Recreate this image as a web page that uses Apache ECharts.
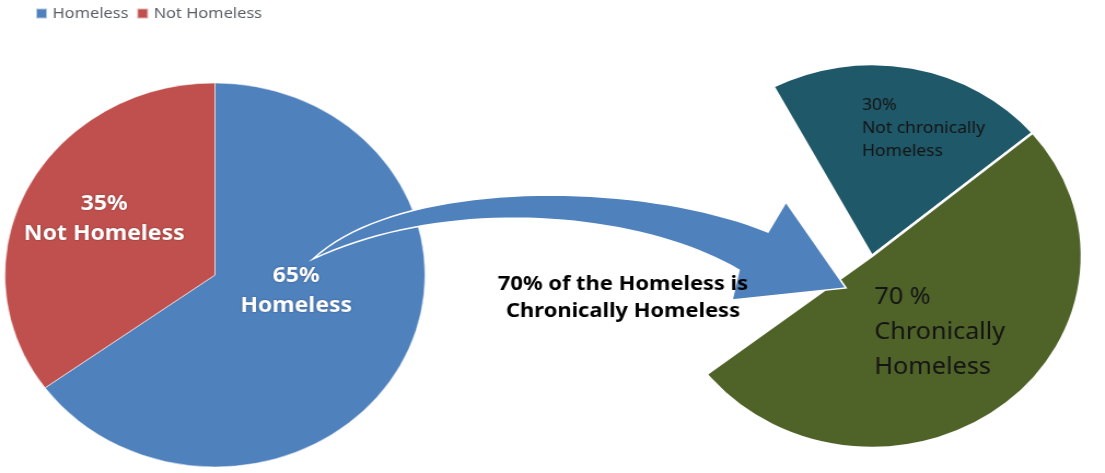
<!DOCTYPE html>
<html>
<head>
<meta charset="utf-8">
<script src="https://cdn.jsdelivr.net/npm/echarts@6/dist/echarts.min.js"></script>
<style>
  html, body { margin: 0; padding: 0; background: #fff; overflow: hidden; }
  #main { width: 1010px; height: 473px; transform: scaleX(1.094); transform-origin: 0 0; }
</style>
</head>
<body>
<div id="main"></div>
<script>
// Horizontal stretch of the whole drawing (pies appear slightly wide).
const STRETCH = 1.094;

// Share of the population
const leftCategories = ['Homeless', 'Not Homeless'];
const leftValues = [65, 35];
const leftColors = ['#4F81BD', '#C0504D'];

// Breakdown of the homeless group
const rightCategories = ['Not chronically\nHomeless', 'Chronically\nHomeless'];
const rightValues = [30, 70];
const rightColors = ['#1F5868', '#4F6228'];
const rightValueSuffix = ['%', ' %'];

const calloutText = '70% of the Homeless is\nChronically Homeless';

const FONT = 'Noto Sans';

const chart = echarts.init(document.getElementById('main'), null, { renderer: 'canvas' });

const leftData = leftCategories.map((name, i) => ({
  name: name,
  value: leftValues[i],
  itemStyle: { color: leftColors[i] }
}));

const rightData = rightCategories.map((name, i) => ({
  name: name,
  value: rightValues[i],
  itemStyle: { color: rightColors[i] },
  label: i === 0
    ? { fontSize: 16, lineHeight: 23 }
    : { fontSize: 23, lineHeight: 35 }
}));

// Curved block arrow outline: two cubic edges joined by the arrow head (page pixels).
function cubic(p0, c1, c2, p1, steps) {
  const pts = [];
  for (let k = 0; k <= steps; k++) {
    const t = k / steps, u = 1 - t;
    const a = u * u * u, b = 3 * u * u * t, c = 3 * u * t * t, d = t * t * t;
    pts.push([a * p0[0] + b * c1[0] + c * c2[0] + d * p1[0],
              a * p0[1] + b * c1[1] + c * c2[1] + d * p1[1]]);
  }
  return pts;
}
const arrowPoints = []
  .concat(cubic([313, 259], [400, 178], [640, 180], [768, 232], 40))
  .concat([[786, 202], [846, 288], [732, 300]])
  .concat(cubic([739, 270], [640, 212], [450, 195], [313, 259], 40))
  .map(p => [p[0] / STRETCH, p[1]]);

const option = {
  animation: false,
  backgroundColor: '#ffffff',
  legend: {
    data: leftCategories,
    left: 32,
    top: 6,
    padding: 0,
    icon: 'rect',
    itemWidth: 10,
    itemHeight: 10,
    itemGap: 7,
    selectedMode: false,
    textStyle: { fontFamily: FONT, fontSize: 15, color: '#5a5f66' }
  },
  series: [
    {
      type: 'pie',
      center: [196.5, 275],
      radius: 192,
      startAngle: 90,
      clockwise: true,
      avoidLabelOverlap: false,
      silent: true,
      data: leftData,
      itemStyle: { borderColor: 'rgba(255,255,255,0.55)', borderWidth: 1 },
      label: {
        show: true,
        position: 'inside',
        formatter: p => p.value + '%\n' + p.name,
        color: '#ffffff',
        fontFamily: FONT,
        fontSize: 21,
        fontWeight: 'bold',
        lineHeight: 30,
        textShadowColor: 'rgba(0,0,0,0.35)',
        textShadowBlur: 2
      },
      labelLine: { show: false },
      labelLayout: p => (p.dataIndex === 0 ? { dx: -14, dy: -29 } : { dx: -13, dy: -11 })
    },
    {
      type: 'pie',
      center: [797, 256],
      radius: 192,
      startAngle: 118,
      endAngle: -142,
      clockwise: true,
      avoidLabelOverlap: false,
      silent: true,
      data: rightData,
      itemStyle: { borderColor: '#ffffff', borderWidth: 2.5 },
      label: {
        show: true,
        position: 'inside',
        formatter: p => p.value + rightValueSuffix[p.dataIndex] + '\n' + p.name,
        color: '#141414',
        fontFamily: FONT
      },
      labelLine: { show: false },
      labelLayout: p => (p.dataIndex === 0
        ? { dx: -28, dy: -30, align: 'left' }
        : { dx: -60, dy: 0, align: 'left' })
    }
  ],
  graphic: [
    {
      type: 'polygon',
      z: 100,
      shape: { points: arrowPoints },
      style: { fill: '#4F81BD', stroke: '#ffffff', lineWidth: 1.5 }
    },
    {
      type: 'text',
      z: 101,
      x: 623 / STRETCH,
      y: 298,
      style: {
        text: calloutText,
        fill: '#000000',
        fontFamily: FONT,
        fontSize: 20,
        fontWeight: 'bold',
        lineHeight: 27,
        align: 'center',
        verticalAlign: 'middle'
      }
    }
  ]
};

chart.setOption(option);
</script>
</body>
</html>
